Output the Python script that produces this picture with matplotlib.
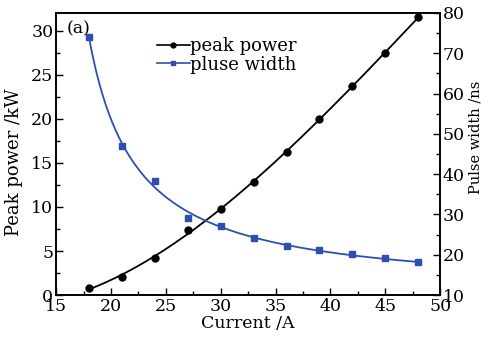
import matplotlib
matplotlib.use("Agg")
import matplotlib.pyplot as plt
import numpy as np
from matplotlib.ticker import MultipleLocator
from matplotlib.lines import Line2D

# data
current = [18, 21, 24, 27, 30, 33, 36, 39, 42, 45, 48]
peak_power = [0.8, 2.1, 4.2, 7.4, 9.8, 12.8, 16.2, 20.0, 23.7, 27.5, 31.5]
pulse_width = [74.0, 47.0, 38.3, 29.1, 27.1, 24.1, 22.2, 21.2, 20.2, 19.2, 18.2]

plt.rcParams['font.family'] = ['DejaVu Serif']
plt.rcParams['font.size'] = 12.5

blue = '#2f4fb0'

fig = plt.figure(figsize=(4.88, 3.4), dpi=100)
ax = fig.add_axes([0.115, 0.132, 0.787, 0.83])
ax2 = ax.twinx()

x = np.array(current, dtype=float)
w = np.array(pulse_width)
xs = np.linspace(x.min(), x.max(), 200)

# smooth curve through the power points
p = np.polyfit(x, peak_power, 3)
ax.plot(xs, np.polyval(p, xs), color='black', lw=1.3, zorder=2)
ax.plot(x, peak_power, 'o', color='black', ms=5, zorder=3)

# fit w = a + b*(I - c)^-n to the pulse width points
best = None
for n in np.linspace(0.3, 2.0, 35):
    for c in np.linspace(0, 17.5, 71):
        f = (x - c) ** (-n)
        A = np.column_stack([np.ones_like(x), f])
        coef = np.linalg.lstsq(A, w, rcond=None)[0]
        err = np.sum((A @ coef - w) ** 2)
        if best is None or err < best[0]:
            best = (err, n, c, coef)
_, n, c, (a, b) = best
ax2.plot(xs, a + b * (xs - c) ** (-n), color=blue, lw=1.3)
ax2.plot(x, w, 's', color=blue, ms=5)

ax.set_xlim(15, 50)
ax.set_ylim(0, 32)
ax2.set_ylim(10, 80)

ax.xaxis.set_major_locator(MultipleLocator(5))
ax.xaxis.set_minor_locator(MultipleLocator(2.5))
ax.yaxis.set_major_locator(MultipleLocator(5))
ax.yaxis.set_minor_locator(MultipleLocator(2.5))
ax2.yaxis.set_major_locator(MultipleLocator(10))
ax2.yaxis.set_minor_locator(MultipleLocator(5))

ax.tick_params(which='both', direction='in', top=False, right=False, pad=2)
ax.tick_params(which='major', length=5, width=1)
ax.tick_params(which='minor', length=3, width=1)
ax2.tick_params(which='both', direction='in', pad=2)
ax2.tick_params(which='major', length=5, width=1)
ax2.tick_params(which='minor', length=3, width=1)
for aa in (ax, ax2):
    for s in aa.spines.values():
        s.set_linewidth(1.2)

ax.set_xlabel('Current /A', labelpad=0, fontsize=12.5)
ax.set_ylabel('Peak power /kW', fontsize=13)
ax.yaxis.set_label_coords(-0.085, 0.47)
ax2.set_ylabel('Pulse width /ns', rotation=90, fontsize=10.5)
ax2.yaxis.set_label_coords(1.075, 0.56)

ax.text(16.0, 30.2, '(a)', fontsize=12.5, va='center')

handles = [Line2D([], [], color='black', marker='o', ms=3.5, lw=1.2),
           Line2D([], [], color=blue, marker='s', ms=3.5, lw=1.2)]
ax.legend(handles, ['peak power', 'pluse width'], loc='upper left',
          bbox_to_anchor=(0.23, 0.96), frameon=False, handlelength=1.8,
          handletextpad=0.05, labelspacing=0.05, borderpad=0.2, fontsize=13)

fig.savefig('out.png', dpi=100)
